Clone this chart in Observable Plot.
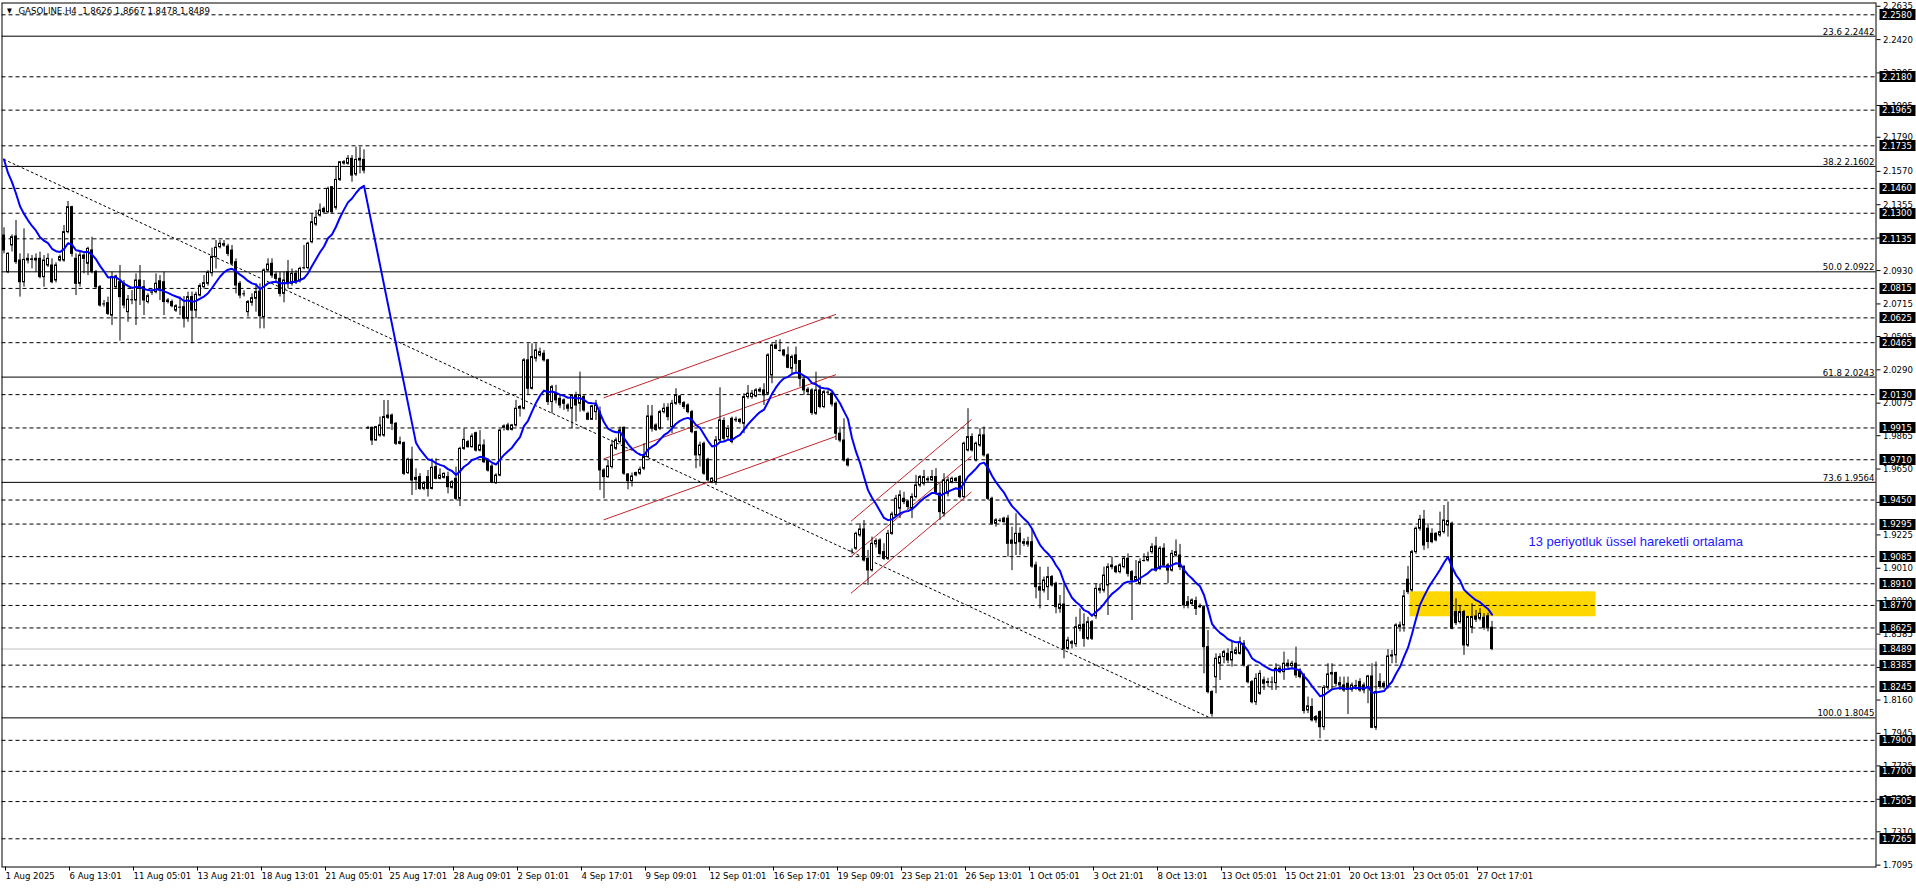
<!DOCTYPE html>
<html><head><meta charset="utf-8">
<script src="https://cdn.jsdelivr.net/npm/d3@7"></script>
<script src="https://cdn.jsdelivr.net/npm/@observablehq/plot@0.6"></script>
<style>
html,body{margin:0;padding:0;background:#fff;overflow:hidden}
#chart{position:relative;width:1916px;height:888px}
svg{display:block}
</style></head><body><div id="chart"></div>
<script>
// ---------------- DATA ----------------
const symbol = "GASOLINE.H4";
// one row per H4 bar: [open, high, low, close]
const ohlc = [
[2.1156,2.1206,2.1038,2.1060],[2.0920,2.1045,2.0910,2.1038],[2.1092,2.1160,2.1050,2.1145],[2.1150,2.1253,2.0970,2.0985],
[2.0995,2.1038,2.0759,2.0855],[2.0855,2.1199,2.0823,2.0999],[2.0995,2.1038,2.0973,2.1006],[2.1002,2.1027,2.0941,2.0999],
[2.0995,2.1038,2.0920,2.1006],[2.1006,2.1049,2.0877,2.0888],[2.0888,2.1027,2.0823,2.0995],[2.0963,2.1038,2.0950,2.1006],
[2.0963,2.1006,2.0845,2.0855],[2.0866,2.0980,2.0850,2.0963],[2.0995,2.1030,2.0985,2.1017],[2.0995,2.1221,2.0984,2.1178],
[2.1178,2.1376,2.1167,2.1339],[2.1339,2.1345,2.1017,2.1038],[2.1006,2.1038,2.0769,2.0845],[2.0845,2.1049,2.0823,2.1027],
[2.1027,2.1038,2.0909,2.1006],[2.0974,2.1081,2.0898,2.1070],[2.1060,2.1145,2.0909,2.0920],[2.0920,2.0931,2.0812,2.0823],
[2.0823,2.0834,2.0694,2.0705],[2.0715,2.0737,2.0694,2.0715],[2.0720,2.0759,2.0640,2.0651],[2.0640,2.0920,2.0576,2.0888],
[2.0823,2.0900,2.0810,2.0892],[2.0855,2.0963,2.0475,2.0759],[2.0845,2.0866,2.0683,2.0705],[2.0662,2.0769,2.0597,2.0742],
[2.0742,2.0801,2.0710,2.0742],[2.0737,2.0909,2.0576,2.0866],[2.0866,2.0963,2.0705,2.0812],[2.0823,2.0866,2.0640,2.0737],
[2.0727,2.0780,2.0715,2.0765],[2.0791,2.0805,2.0770,2.0791],[2.0791,2.0909,2.0780,2.0845],[2.0861,2.0898,2.0737,2.0801],
[2.0855,2.0920,2.0640,2.0727],[2.0737,2.0750,2.0715,2.0727],[2.0727,2.0740,2.0690,2.0700],[2.0672,2.0710,2.0660,2.0700],
[2.0694,2.0760,2.0640,2.0694],[2.0694,2.0763,2.0560,2.0619],[2.0619,2.0791,2.0597,2.0759],[2.0759,2.0791,2.0458,2.0672],
[2.0672,2.0791,2.0619,2.0774],[2.0769,2.0845,2.0760,2.0830],[2.0823,2.0898,2.0810,2.0849],[2.0845,2.0930,2.0830,2.0915],
[2.0913,2.1075,2.0890,2.1017],[2.1017,2.1124,2.0940,2.1077],[2.1081,2.1124,2.1070,2.1103],[2.1100,2.1124,2.1080,2.1092],
[2.1085,2.1100,2.1020,2.1038],[2.1059,2.1092,2.0963,2.0974],[2.0984,2.1006,2.0780,2.0834],[2.0845,2.0860,2.0748,2.0769],
[2.0780,2.0800,2.0760,2.0780],[2.0662,2.0737,2.0630,2.0727],[2.0722,2.0780,2.0700,2.0752],[2.0748,2.0845,2.0662,2.0791],
[2.0795,2.0845,2.0554,2.0636],[2.0630,2.0941,2.0554,2.0931],[2.0931,2.1006,2.0920,2.0969],[2.0974,2.1006,2.0880,2.0898],
[2.0903,2.0920,2.0855,2.0877],[2.0877,2.0920,2.0760,2.0780],[2.0780,2.0920,2.0722,2.0866],[2.0920,2.0995,2.0812,2.0845],
[2.0845,2.0941,2.0830,2.0909],[2.0909,2.0930,2.0840,2.0855],[2.0862,2.0952,2.0850,2.0941],[2.0948,2.1092,2.0935,2.0948],
[2.0946,2.1113,2.0935,2.1103],[2.1113,2.1296,2.1103,2.1242],[2.1227,2.1317,2.1215,2.1270],[2.1285,2.1360,2.1275,2.1317],
[2.1328,2.1340,2.1296,2.1307],[2.1307,2.1468,2.1296,2.1457],[2.1468,2.1470,2.1296,2.1307],[2.1335,2.1597,2.1320,2.1515],
[2.1515,2.1629,2.1505,2.1629],[2.1621,2.1640,2.1610,2.1629],[2.1619,2.1672,2.1610,2.1651],[2.1651,2.1672,2.1500,2.1543],
[2.1550,2.1726,2.1537,2.1644],[2.1651,2.1726,2.1554,2.1640],[2.1644,2.1709,2.1554,2.1575],[1.9916,1.9925,1.9905,1.9916],
[1.9916,1.9920,1.9802,1.9834],[1.9834,1.9925,1.9830,1.9920],[1.9866,1.9985,1.9855,1.9931],[1.9866,2.0092,1.9855,1.9985],
[1.9980,2.0092,1.9970,1.9995],[1.9995,2.0005,1.9898,1.9942],[1.9942,1.9950,1.9802,1.9813],[1.9823,1.9856,1.9805,1.9813],
[1.9817,1.9825,1.9608,1.9619],[1.9624,1.9720,1.9615,1.9710],[1.9710,1.9791,1.9479,1.9576],[1.9580,1.9651,1.9512,1.9593],
[1.9598,1.9620,1.9512,1.9522],[1.9522,1.9570,1.9510,1.9555],[1.9598,1.9641,1.9469,1.9522],[1.9522,1.9716,1.9515,1.9658],
[1.9662,1.9716,1.9580,1.9587],[1.9587,1.9651,1.9580,1.9608],[1.9593,1.9625,1.9585,1.9619],[1.9598,1.9630,1.9490,1.9533],
[1.9529,1.9575,1.9520,1.9565],[1.9587,1.9662,1.9447,1.9458],[1.9458,1.9791,1.9408,1.9780],[1.9780,1.9909,1.9770,1.9838],
[1.9823,1.9835,1.9785,1.9791],[1.9791,1.9877,1.9785,1.9860],[1.9881,1.9888,1.9760,1.9769],[1.9769,1.9898,1.9760,1.9802],
[1.9802,1.9838,1.9685,1.9694],[1.9705,1.9715,1.9630,1.9640],[1.9666,1.9680,1.9555,1.9565],[1.9559,1.9620,1.9550,1.9608],
[1.9608,1.9905,1.9600,1.9898],[1.9916,1.9935,1.9895,1.9925],[1.9931,1.9945,1.9895,1.9903],[1.9903,1.9938,1.9895,1.9931],
[1.9931,2.0093,1.9920,2.0039],[2.0039,2.0060,1.9985,2.0050],[2.0039,2.0362,2.0030,2.0351],[2.0351,2.0458,2.0125,2.0168],
[2.0168,2.0458,2.0160,2.0372],[2.0362,2.0458,2.0340,2.0415],[2.0383,2.0430,2.0372,2.0404],[2.0394,2.0415,2.0340,2.0351],
[2.0351,2.0358,2.0060,2.0082],[2.0082,2.0190,2.0006,2.0178],[2.0136,2.0190,2.0070,2.0093],[2.0103,2.0125,2.0039,2.0060],
[2.0093,2.0103,2.0028,2.0071],[2.0060,2.0071,2.0017,2.0039],[2.0039,2.0130,1.9910,2.0125],[2.0125,2.0146,1.9953,2.0060],
[2.0071,2.0275,2.0017,2.0125],[2.0114,2.0125,2.0017,2.0028],[2.0006,2.0017,1.9963,1.9968],[1.9968,2.0060,1.9963,2.0054],
[2.0017,2.0093,1.9963,2.0060],[2.0017,2.0050,1.9512,1.9641],[1.9641,1.9652,1.9458,1.9598],[1.9598,1.9706,1.9590,1.9667],
[1.9663,1.9835,1.9650,1.9802],[1.9781,1.9850,1.9770,1.9835],[1.9824,1.9921,1.9810,1.9899],[1.9916,1.9921,1.9609,1.9620],
[1.9615,1.9620,1.9516,1.9572],[1.9572,1.9624,1.9534,1.9602],[1.9609,1.9630,1.9600,1.9624],[1.9620,1.9663,1.9609,1.9645],
[1.9652,1.9813,1.9640,1.9727],[1.9727,2.0060,1.9720,1.9989],[1.9989,2.0060,1.9888,1.9910],[1.9931,1.9942,1.9892,1.9903],
[1.9910,2.0028,1.9899,2.0017],[2.0017,2.0071,2.0005,2.0039],[2.0045,2.0071,1.9960,1.9985],[1.9921,2.0093,1.9878,2.0071],
[2.0071,2.0168,2.0060,2.0125],[2.0118,2.0125,2.0060,2.0075],[2.0075,2.0085,2.0033,2.0050],[2.0060,2.0070,2.0006,2.0017],
[2.0017,2.0028,1.9878,1.9888],[1.9888,1.9895,1.9652,1.9738],[1.9738,1.9824,1.9663,1.9802],[1.9813,1.9824,1.9609,1.9620],
[1.9710,1.9720,1.9566,1.9577],[1.9566,1.9595,1.9555,1.9587],[1.9566,1.9860,1.9544,1.9835],[1.9835,2.0174,1.9824,1.9964],
[1.9960,1.9980,1.9830,1.9845],[1.9856,1.9930,1.9840,1.9910],[1.9974,1.9985,1.9813,1.9824],[1.9964,1.9985,1.9950,1.9968],
[1.9968,1.9975,1.9940,1.9953],[1.9942,2.0136,1.9878,2.0114],[2.0114,2.0189,2.0100,2.0136],[2.0114,2.0157,2.0100,2.0136],
[2.0118,2.0168,2.0110,2.0157],[2.0150,2.0175,2.0140,2.0161],[2.0157,2.0200,2.0060,2.0125],[2.0136,2.0394,2.0125,2.0383],
[2.0254,2.0458,2.0200,2.0447],[2.0447,2.0480,2.0420,2.0426],[2.0415,2.0484,2.0404,2.0415],[2.0415,2.0420,2.0372,2.0383],
[2.0383,2.0437,2.0297,2.0303],[2.0297,2.0385,2.0260,2.0372],[2.0383,2.0437,2.0275,2.0329],[2.0346,2.0350,2.0179,2.0232],
[2.0226,2.0243,2.0125,2.0157],[2.0161,2.0175,2.0130,2.0146],[2.0157,2.0168,1.9996,2.0011],[2.0007,2.0275,1.9996,2.0157],
[2.0157,2.0190,2.0039,2.0050],[2.0050,2.0157,2.0039,2.0146],[2.0146,2.0155,2.0125,2.0146],[2.0136,2.0146,2.0050,2.0067],
[2.0071,2.0082,1.9834,1.9878],[1.9878,1.9920,1.9820,1.9834],[1.9834,1.9974,1.9695,1.9706],[1.9710,1.9720,1.9663,1.9673],
[1.9121,1.9135,1.9100,1.9121],[1.9136,1.9243,1.9125,1.9232],[1.9222,1.9297,1.9210,1.9260],[1.9260,1.9318,1.9050,1.9060],
[1.9071,1.9125,1.8899,1.8996],[1.8996,1.9211,1.8985,1.9168],[1.9164,1.9200,1.9140,1.9185],[1.9189,1.9200,1.9090,1.9103],
[1.9114,1.9168,1.9060,1.9071],[1.9071,1.9254,1.9060,1.9232],[1.9232,1.9372,1.9222,1.9357],[1.9350,1.9480,1.9340,1.9458],
[1.9394,1.9510,1.9330,1.9480],[1.9458,1.9500,1.9420,1.9437],[1.9437,1.9447,1.9390,1.9405],[1.9394,1.9490,1.9330,1.9469],
[1.9469,1.9609,1.9458,1.9544],[1.9544,1.9609,1.9530,1.9598],[1.9555,1.9641,1.9540,1.9598],[1.9584,1.9600,1.9560,1.9577],
[1.9577,1.9641,1.9570,1.9598],[1.9598,1.9652,1.9480,1.9491],[1.9491,1.9555,1.9319,1.9372],[1.9362,1.9620,1.9340,1.9577],
[1.9491,1.9598,1.9470,1.9577],[1.9566,1.9598,1.9555,1.9587],[1.9573,1.9595,1.9565,1.9587],[1.9598,1.9609,1.9458,1.9469],
[1.9469,1.9824,1.9458,1.9813],[1.9770,2.0039,1.9760,1.9856],[1.9856,1.9877,1.9760,1.9770],[1.9706,1.9824,1.9695,1.9813],
[1.9802,1.9910,1.9790,1.9867],[1.9867,1.9921,1.9727,1.9738],[1.9738,1.9749,1.9447,1.9458],[1.9458,1.9469,1.9286,1.9297],
[1.9297,1.9330,1.9275,1.9319],[1.9319,1.9330,1.9305,1.9319],[1.9330,1.9340,1.9300,1.9308],[1.9330,1.9351,1.9082,1.9168],
[1.9189,1.9275,1.8995,1.9168],[1.9168,1.9361,1.9092,1.9232],[1.9232,1.9271,1.9092,1.9178],[1.9178,1.9200,1.9150,1.9168],
[1.9178,1.9210,1.9145,1.9163],[1.9178,1.9264,1.9010,1.9021],[1.9028,1.9049,1.8813,1.8888],[1.8888,1.9017,1.8748,1.8866],
[1.8866,1.8953,1.8850,1.8931],[1.8888,1.9017,1.8802,1.8953],[1.8953,1.8963,1.8888,1.8899],[1.8910,1.8920,1.8716,1.8759],
[1.8748,1.8834,1.8720,1.8776],[1.8776,1.8909,1.8426,1.8490],[1.8490,1.8565,1.8480,1.8544],[1.8523,1.8544,1.8490,1.8533],
[1.8520,1.8694,1.8500,1.8630],[1.8619,1.8748,1.8600,1.8641],[1.8646,1.8716,1.8501,1.8555],[1.8555,1.8694,1.8544,1.8662],
[1.8662,1.8673,1.8544,1.8555],[1.8700,1.8909,1.8680,1.8877],[1.8866,1.8909,1.8845,1.8877],[1.8866,1.9017,1.8850,1.8963],
[1.8899,1.9039,1.8705,1.9017],[1.9017,1.9082,1.9000,1.9028],[1.9017,1.9028,1.8974,1.8985],[1.8985,1.9039,1.8974,1.9028],
[1.9017,1.9082,1.9006,1.9071],[1.9071,1.9103,1.8953,1.8974],[1.8985,1.8995,1.8673,1.8931],[1.8931,1.9060,1.8920,1.8953],
[1.8910,1.9071,1.8899,1.9049],[1.9060,1.9103,1.9050,1.9060],[1.9060,1.9114,1.9050,1.9082],[1.9114,1.9168,1.9100,1.9146],
[1.9150,1.9210,1.8985,1.8995],[1.9006,1.9150,1.8995,1.9136],[1.9136,1.9168,1.9017,1.9028],[1.9028,1.9040,1.8910,1.8995],
[1.8995,1.9125,1.8985,1.9103],[1.9092,1.9193,1.9080,1.9114],[1.9092,1.9164,1.8995,1.9017],[1.9017,1.9028,1.8748,1.8770],
[1.8791,1.8828,1.8748,1.8770],[1.8780,1.8813,1.8770,1.8802],[1.8798,1.8824,1.8705,1.8748],[1.8759,1.8780,1.8750,1.8762],
[1.8759,1.8770,1.8329,1.8501],[1.8501,1.8608,1.8200,1.8211],[1.8211,1.8220,1.8050,1.8071],[1.8307,1.8458,1.8200,1.8426],
[1.8394,1.8458,1.8286,1.8437],[1.8437,1.8480,1.8394,1.8469],[1.8458,1.8490,1.8394,1.8415],[1.8415,1.8533,1.8372,1.8469],
[1.8458,1.8500,1.8450,1.8480],[1.8458,1.8565,1.8450,1.8533],[1.8523,1.8544,1.8372,1.8383],[1.8372,1.8383,1.8264,1.8275],
[1.8275,1.8286,1.8135,1.8146],[1.8146,1.8329,1.8125,1.8297],[1.8200,1.8350,1.8190,1.8329],[1.8287,1.8308,1.8222,1.8265],
[1.8270,1.8300,1.8240,1.8276],[1.8276,1.8308,1.8222,1.8276],[1.8269,1.8394,1.8222,1.8362],[1.8362,1.8380,1.8330,1.8340],
[1.8340,1.8469,1.8287,1.8394],[1.8394,1.8420,1.8360,1.8377],[1.8379,1.8410,1.8365,1.8394],[1.8394,1.8501,1.8300,1.8319],
[1.8351,1.8362,1.8297,1.8308],[1.8319,1.8330,1.8070,1.8089],[1.8093,1.8179,1.8072,1.8119],[1.8115,1.8168,1.8018,1.8029],
[1.8050,1.8060,1.8010,1.8029],[1.8082,1.8090,1.7910,1.7985],[1.7985,1.8254,1.7964,1.8239],[1.8239,1.8394,1.8222,1.8325],
[1.8325,1.8394,1.8222,1.8334],[1.8334,1.8340,1.8244,1.8265],[1.8269,1.8308,1.8222,1.8254],[1.8254,1.8308,1.8210,1.8222],
[1.8265,1.8308,1.8067,1.8226],[1.8226,1.8270,1.8210,1.8254],[1.8254,1.8287,1.8222,1.8254],[1.8276,1.8297,1.8210,1.8222],
[1.8254,1.8270,1.8200,1.8222],[1.8244,1.8319,1.8136,1.8312],[1.8312,1.8394,1.7975,1.7981],[1.7981,1.8405,1.7964,1.8211],
[1.8276,1.8330,1.8230,1.8244],[1.8265,1.8280,1.8230,1.8244],[1.8244,1.8485,1.8230,1.8441],[1.8441,1.8480,1.8394,1.8448],
[1.8448,1.8652,1.8394,1.8641],[1.8641,1.8663,1.8598,1.8630],[1.8641,1.8867,1.8598,1.8828],[1.8936,1.9022,1.8840,1.8856],
[1.8867,1.9125,1.8856,1.9114],[1.9114,1.9276,1.9100,1.9265],[1.9265,1.9351,1.9250,1.9323],[1.9323,1.9383,1.9125,1.9157],
[1.9265,1.9297,1.9136,1.9179],[1.9232,1.9265,1.9168,1.9179],[1.9232,1.9240,1.9180,1.9190],[1.9222,1.9372,1.9210,1.9243],
[1.9243,1.9415,1.9230,1.9318],[1.9286,1.9437,1.9211,1.9314],[1.9297,1.9308,1.8613,1.8620],[1.8727,1.8813,1.8640,1.8656],
[1.8663,1.8770,1.8650,1.8727],[1.8727,1.8738,1.8448,1.8512],[1.8512,1.8700,1.8500,1.8695],[1.8626,1.8781,1.8588,1.8695],
[1.8699,1.8738,1.8660,1.8678],[1.8684,1.8750,1.8670,1.8716],[1.8691,1.8717,1.8610,1.8626],[1.8700,1.8720,1.8600,1.8626],
[1.8626,1.8667,1.8478,1.8489]
];
// bottom time axis: one label every 16 bars
const timeLabels = ["1 Aug 2025","6 Aug 13:01","11 Aug 05:01","13 Aug 21:01","18 Aug 13:01","21 Aug 05:01",
  "25 Aug 17:01","28 Aug 09:01","2 Sep 01:01","4 Sep 17:01","9 Sep 09:01","12 Sep 01:01","16 Sep 17:01",
  "19 Sep 09:01","23 Sep 21:01","26 Sep 13:01","1 Oct 05:01","3 Oct 21:01","8 Oct 13:01","13 Oct 05:01",
  "15 Oct 21:01","20 Oct 13:01","23 Oct 05:01","27 Oct 17:01"];
const barsPerLabel = 16;
// price scale ticks on the right
const priceTicks = [2.2635,2.2420,2.2205,2.1995,2.1790,2.1570,2.1355,2.1140,2.0930,2.0715,2.0505,2.0290,
  2.0075,1.9865,1.9650,1.9435,1.9225,1.9010,1.8800,1.8585,1.8370,1.8160,1.7945,1.7735,1.7520,1.7310,1.7095];
// dashed horizontal levels (labelled in black boxes)
const levels = [2.2580,2.2180,2.1965,2.1735,2.1460,2.1300,2.1135,2.0815,2.0625,2.0465,2.0130,1.9915,1.9710,
  1.9450,1.9295,1.9085,1.8910,1.8770,1.8625,1.8385,1.8245,1.7900,1.7700,1.7505,1.7265];
// Fibonacci retracement levels
const fibPct = ["23.6","38.2","50.0","61.8","73.6","100.0"];
const fibVal = [2.2442,2.1602,2.0922,2.0243,1.9564,1.8045];
const lastPrice = 1.8489;
// 13-period EMA
const emaPeriod = 13;
const emaStart = 2.1647;      // EMA value at first visible bar
const emaRestartBar = 91;     // contract roll: EMA restarts here
// dotted trend line (bar index, price)
const trendBars = [0, 301.5];
const trendVals = [2.1647, 1.8045];
// red channel lines: [barStart, priceStart, barEnd, priceEnd]
const redLines = [
  [150, 2.0110, 207.9, 2.0647],[150, 1.9716, 207.9, 2.0258],[150, 1.9323, 207.9, 1.9860],
  [211.8, 1.9314, 241.8, 1.9968],[211.8, 1.9086, 241.8, 1.9731],[211.8, 1.8850, 241.8, 1.9501]
];
// yellow zone
const zoneBars = [351.5, 398];
const zoneVals = [1.8697, 1.8858];
// annotation
const noteText = "13 periyotluk üssel hareketli ortalama";
const noteAt = [381.1, 1.9179];

// ---------------- BUILD ----------------
const FONT = "'DejaVu Sans Condensed','Liberation Sans Narrow','Arial Narrow',sans-serif";
const FS = 9.5;
const bars = ohlc.map(([o,h,l,c], i) => ({i, o, h, l, c}));
const bodies = bars.filter(d => Math.abs(d.o - d.c) >= 0.0003);
const dojis = bars.filter(d => Math.abs(d.o - d.c) < 0.0003);

// EMA (exponential moving average of closes)
const k = 2 / (emaPeriod + 1);
const ema = [];
let e = emaStart;
for (const d of bars) {
  if (d.i === 0) { ema.push({i: 0, v: e}); continue; }
  if (d.i >= emaRestartBar && d.i < emaRestartBar + emaPeriod - 1) continue;
  if (d.i === emaRestartBar + emaPeriod - 1) {
    e = d3.mean(bars.slice(emaRestartBar, d.i + 1), b => b.c);
  } else {
    e = e + k * (d.c - e);
  }
  ema.push({i: d.i, v: e});
}

const trend = trendBars.map((b, j) => ({i: b, v: trendVals[j]}));
const red = redLines.flatMap(([b1, v1, b2, v2], id) => [{id, i: b1, v: v1}, {id, i: b2, v: v2}]);
const fib = fibPct.map((p, j) => ({p, v: fibVal[j]}));
const last = bars[bars.length - 1];
const title = `${symbol}  ${last.o.toFixed(4)} ${last.h.toFixed(4)} ${last.l.toFixed(4)} ${last.c.toFixed(4)}`;
const timeTicks = timeLabels.map((_, j) => j * barsPerLabel);

const plot = Plot.plot({
  width: 1916, height: 888,
  marginLeft: 1.5, marginRight: 40.5, marginTop: 2.5, marginBottom: 21.5,
  x: {type: "linear", domain: [-0.5, 468], axis: null},
  y: {type: "linear", domain: [1.70830, 2.26561], axis: null},
  style: {fontFamily: FONT, fontSize: FS + "px", background: "#fff", color: "#000", overflow: "visible"},
  marks: [
    Plot.rect([0], {x1: zoneBars[0], x2: zoneBars[1], y1: zoneVals[0], y2: zoneVals[1], fill: "#FFD700"}),
    Plot.ruleY(levels, {stroke: "#000", strokeWidth: 1, strokeDasharray: "4,3"}),
    Plot.ruleY(fibVal, {stroke: "#000", strokeWidth: 1}),
    Plot.ruleY([lastPrice], {stroke: "#c0c0c0", strokeWidth: 1}),
    Plot.text(fib, {y: "v", text: d => `${d.p} ${d.v.toFixed(4)}`, frameAnchor: "right", textAnchor: "end",
      lineAnchor: "bottom", dx: -1.5, dy: -1.5, fontSize: FS, fill: "#000"}),
    Plot.line(trend, {x: "i", y: "v", stroke: "#000", strokeWidth: 1, strokeDasharray: "2,3"}),
    Plot.line(red, {x: "i", y: "v", z: "id", stroke: "#c4262c", strokeWidth: 1}),
    Plot.ruleX(bars, {x: "i", y1: "l", y2: "h", stroke: "#000", strokeWidth: 1}),
    Plot.rect(bodies, {x1: d => d.i - 0.25, x2: d => d.i + 0.25, y1: "o", y2: "c",
      fill: d => d.c >= d.o ? "#fff" : "#000", stroke: "#000", strokeWidth: 1}),
    Plot.ruleY(dojis, {y: "c", x1: d => d.i - 0.375, x2: d => d.i + 0.375, stroke: "#000", strokeWidth: 1}),
    Plot.line(ema, {x: "i", y: "v", stroke: "#0000ff", strokeWidth: 2}),
    Plot.text([noteText], {x: noteAt[0], y: noteAt[1], text: d => d, textAnchor: "start", lineAnchor: "middle",
      fill: "#1a1aff", fontSize: 13, fontFamily: "'Liberation Sans',Arial,sans-serif"}),
    Plot.text(["\u25BC"], {frameAnchor: "top-left", dx: 5, dy: 5.5, lineAnchor: "top", textAnchor: "start", fontSize: 7, fill: "#000"}),
    Plot.text([title], {frameAnchor: "top-left", dx: 16.5, dy: 4.5, lineAnchor: "top", textAnchor: "start", fontSize: FS, fill: "#000"}),
    Plot.axisY(priceTicks, {anchor: "right", tickSize: 4, tickPadding: 3, tickFormat: d => d.toFixed(4),
      label: null, fontSize: FS, stroke: "#000"}),
    Plot.axisX(timeTicks, {anchor: "bottom", tickSize: 4, tickPadding: 1.5, tickFormat: d => timeLabels[d / barsPerLabel],
      textAnchor: "start", dx: 1.5, label: null, fontSize: FS, stroke: "#000"}),
    Plot.frame({stroke: "#000", strokeWidth: 1})
  ]
});

// price labels in black boxes on the right scale, positioned with the plot's y scale
const yScale = plot.scale("y");
const xScale = plot.scale("x");
const boxLeft = xScale.range[1] + 4;
const gBoxes = d3.select(plot).append("g")
  .attr("font-family", FONT).attr("font-size", FS).attr("text-anchor", "start");
for (const v of [...levels, lastPrice]) {
  const yy = yScale.apply(v);
  gBoxes.append("rect").attr("x", boxLeft).attr("y", Math.round(yy) - 5).attr("width", 36).attr("height", 11).attr("fill", "#000");
  gBoxes.append("text").attr("x", boxLeft + 2.5).attr("y", yy).attr("dy", "0.36em").attr("fill", "#fff").text(v.toFixed(4));
}
document.getElementById("chart").appendChild(plot);
</script>
</body></html>
